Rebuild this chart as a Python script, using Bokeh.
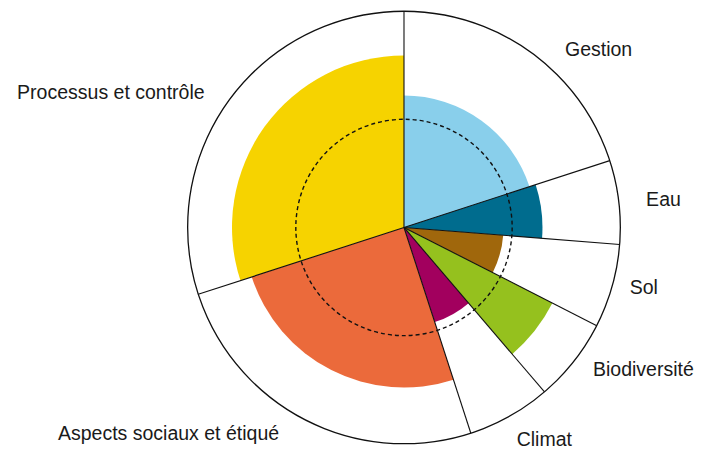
import numpy as np
from bokeh.plotting import figure
from bokeh.models import Range1d, ColumnDataSource
from bokeh.embed import file_html
from bokeh.resources import INLINE
from bokeh.core.properties import value

# ---- data ----
categories = ["Gestion", "Eau", "Sol", "Biodiversité", "Climat",
              "Aspects sociaux et étiqué", "Processus et contrôle"]
weights = [20, 6.25, 6.25, 6.25, 6.25, 25, 30]          # share of the circle (%)
scores = [61, 64, 46, 77, 46, 74, 79.5]                 # radius as % of full scale
colors = ["#89CFEB", "#006C8E", "#A0670C", "#95C11E", "#A2005E", "#EB6A3B", "#F6D300"]
full_scale = 100
reference_level = 50                                    # dashed circle

# ---- layout (canvas units) ----
W, H = 705, 452
VW, VH = 721.0, 468.0
span_x = VH * W / H
x0 = (VW - span_x) / 2.0
cx, cy, R = 413.3, 233.0, 224.0
label_x = [580, 664, 647, 609, 530, 55, 12.7]
label_y = [417.7, 262, 171, 86, 14, 20, 373]

p = figure(width=W, height=H, x_range=Range1d(x0, x0 + span_x), y_range=Range1d(0, VH),
           output_backend="svg", toolbar_location=None, min_border=0)
p.axis.visible = False
p.grid.visible = False
p.outline_line_color = None
p.background_fill_color = "white"
p.border_fill_color = "white"

w = np.array(weights, dtype=float)
theta2 = np.cumsum(w) / w.sum() * 360.0   # clockwise from north
theta1 = theta2 - w / w.sum() * 360.0
start = np.deg2rad(90.0 - theta2)
end = np.deg2rad(90.0 - theta1)

src = ColumnDataSource(dict(
    start=start, end=end,
    r=np.array(scores) / full_scale * R,
    color=colors,
))

# white outer sectors
p.wedge(x=cx, y=cy, radius=R, start_angle="start", end_angle="end",
        source=src, fill_color="white", line_color=None)
# coloured sectors
p.wedge(x=cx, y=cy, radius="r", start_angle="start", end_angle="end",
        source=src, fill_color="color", line_color=None)
# sector boundaries
p.ray(x=[cx] * len(end), y=[cy] * len(end), length=R, angle=list(end),
      line_color="#111111", line_width=1.1)
# outer circle
p.circle(x=cx, y=cy, radius=R, fill_color=None, line_color="#111111", line_width=1.3)
# reference dashed circle
p.circle(x=cx, y=cy, radius=R * reference_level / full_scale, fill_color=None,
         line_color="#111111", line_width=1.4, line_dash="4 3")

p.text(x=label_x, y=label_y, text=categories, text_font=value("Liberation Sans"),
       text_font_size="19.5px", text_baseline="alphabetic", text_align="left",
       text_color="#1a1a1a")

open("out.html", "w").write(file_html(p, INLINE))
